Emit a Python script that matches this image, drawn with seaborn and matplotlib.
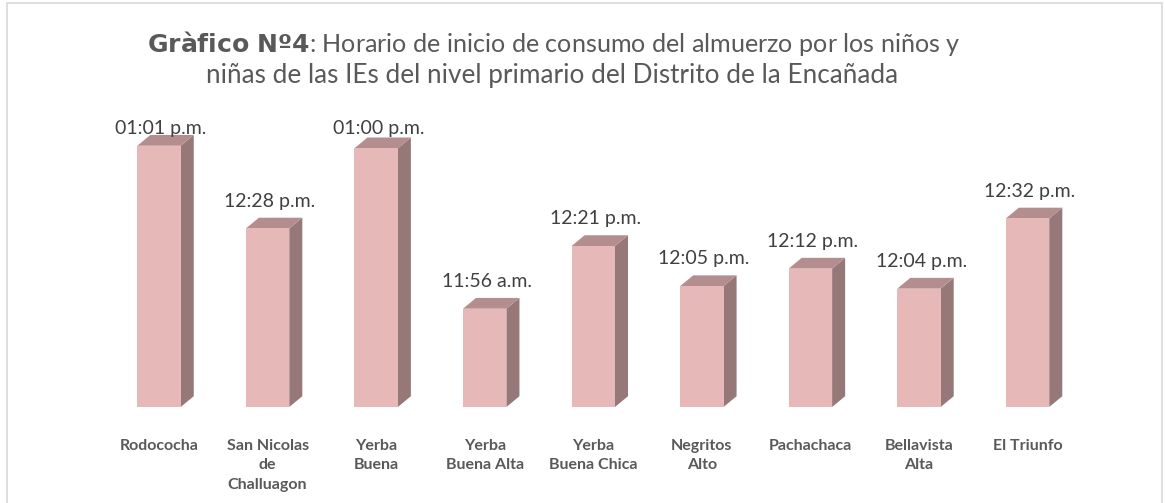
import matplotlib.pyplot as plt
import numpy as np
import pandas as pd
import seaborn as sns
from matplotlib.patches import Polygon, Rectangle

# IE names and start times (minutes after midnight)
schools = ["Rodococha", "San Nicolas\nde\nChalluagon", "Yerba\nBuena", "Yerba\nBuena Alta",
           "Yerba\nBuena Chica", "Negritos\nAlto", "Pachachaca", "Bellavista\nAlta", "El Triunfo"]
minutes = [781, 748, 780, 716, 741, 725, 732, 724, 752]
time_labels = ["01:01 p.m.", "12:28 p.m.", "01:00 p.m.", "11:56 a.m.", "12:21 p.m.",
               "12:05 p.m.", "12:12 p.m.", "12:04 p.m.", "12:32 p.m."]

FRONT = "#e6b8b7"
SIDE = "#967878"
TOP = "#b48e8e"
GREY = "#595959"

df = pd.DataFrame({"school": schools, "minutes": minutes})

sns.set_theme(style="white")
plt.rcParams["font.family"] = ["Lato", "DejaVu Sans"]

fig = plt.figure(figsize=(11.65, 5.03), dpi=100)
ax = fig.add_axes([0.0899, 0.1909, 0.8387, 0.614])

ymin = 0.47 * 1440
sns.barplot(data=df, x="school", y="minutes", color=FRONT, width=0.4,
            saturation=1, ax=ax, zorder=3, edgecolor="none")
ax.set_xlim(-0.5, 8.5)
ax.set_ylim(ymin, 800)

# 3D depth faces built from each seaborn bar
dx = 0.12
dy = 4.3
for p in ax.patches[:]:
    x0 = p.get_x()
    w = p.get_width()
    top = p.get_y() + p.get_height()
    x1 = x0 + w
    side = Polygon([(x1, ymin), (x1 + dx, ymin + dy), (x1 + dx, top + dy), (x1, top)],
                   closed=True, facecolor=SIDE, edgecolor="none", zorder=2)
    lid = Polygon([(x0, top), (x0 + dx, top + dy), (x1 + dx, top + dy), (x1, top)],
                  closed=True, facecolor=TOP, edgecolor="none", zorder=2)
    ax.add_patch(side)
    ax.add_patch(lid)

# value labels sit above the bar lid, kept inside the plot area
cap = 785.8
for i, (v, lab) in enumerate(zip(minutes, time_labels)):
    y = min(v + dy + 4.4, cap)
    ax.text(i + 0.02, y, lab, ha="center", va="baseline",
            fontsize=14, color="#404040", clip_on=False)

ax.set_xlabel("")
ax.set_ylabel("")
ax.set_yticks([])
ax.tick_params(axis="x", length=0, pad=23)
ax.set_xticks(range(len(schools)))
ax.set_xticklabels(schools, fontsize=11.5, fontweight="bold", color=GREY,
                   va="top", linespacing=1.5)
sns.despine(ax=ax, left=True, bottom=True)
ax.grid(False)

fig.text(0.475, 0.897, r"$\bf{Gràfico\ Nº4}$: Horario de inicio de consumo del almuerzo por los niños y",
         ha="center", va="baseline", fontsize=18.1, color=GREY)
fig.text(0.474, 0.835, "niñas de las IEs del nivel primario del Distrito de la Encañada",
         ha="center", va="baseline", fontsize=18.8, color=GREY)

fig.patches.append(Rectangle((0.006, -0.01), 0.991, 1.004, transform=fig.transFigure,
                             fill=False, edgecolor="#d9d9d9", linewidth=1.2))

fig.savefig("out.png", dpi=100, facecolor="white")
